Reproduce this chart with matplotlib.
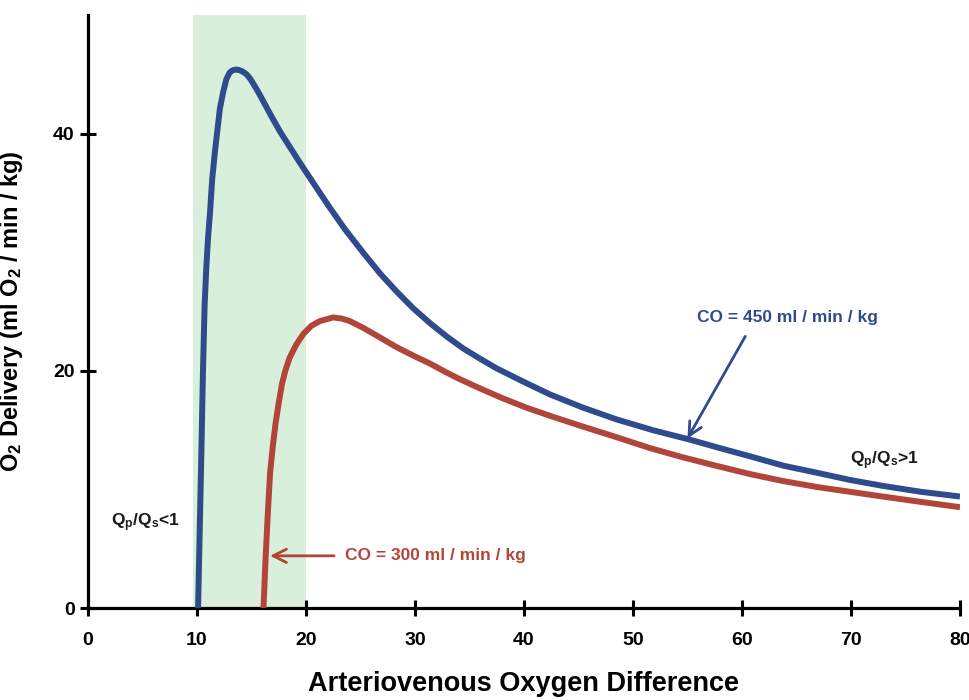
import matplotlib
matplotlib.use("Agg")
import matplotlib.pyplot as plt

plt.rcParams['font.family'] = ['Liberation Sans', 'DejaVu Sans']
plt.rcParams['font.weight'] = 'bold'
plt.rcParams['mathtext.fontset'] = 'custom'
plt.rcParams['mathtext.rm'] = 'Liberation Sans:bold'
plt.rcParams['mathtext.it'] = 'Liberation Sans:bold'
plt.rcParams['mathtext.bf'] = 'Liberation Sans:bold'
plt.rcParams['mathtext.default'] = 'regular'

# ---- data ----
co450_x = [10.1, 10.25, 10.4, 10.55, 10.7, 10.85, 11.0, 11.2, 11.4, 11.65, 11.9, 12.1, 12.4,
           12.7, 13.0, 13.3, 13.6, 13.9, 14.25, 14.6, 14.9, 15.5, 16.1, 16.8, 17.6,
           18.5, 19.4, 20.7, 22.0, 23.6, 25.3, 26.8, 28.3, 29.8, 31.4, 32.9, 34.4,
           36.0, 37.5, 39.9, 42.4, 45.4, 48.5, 51.8, 55.2, 57.9, 60.7, 63.8, 66.9,
           69.9, 72.9, 76.4, 80.0]
co450_y = [0.0, 6.5, 13.0, 20.0, 25.5, 28.6, 31.0, 33.4, 36.2, 38.5, 40.5, 42.1, 43.5,
           44.6, 45.15, 45.35, 45.4, 45.35, 45.2, 44.95, 44.6, 43.7, 42.7, 41.5, 40.2,
           38.9, 37.6, 35.8, 34.0, 31.9, 29.9, 28.2, 26.7, 25.3, 24.0, 22.9, 21.9,
           21.0, 20.2, 19.1, 18.0, 16.9, 15.9, 15.0, 14.2, 13.5, 12.8, 12.0, 11.4,
           10.8, 10.3, 9.8, 9.4]

co300_x = [16.1, 16.3, 16.5, 16.7, 16.95, 17.2, 17.5, 17.8, 18.1, 18.5, 19.1, 19.75,
           20.5, 21.3, 22.5, 23.3, 24.0, 25.3, 26.8, 28.3, 29.8, 31.4, 32.8, 34.1,
           36.0, 38.0, 40.2, 42.4, 45.4, 48.5, 51.5, 54.6, 57.6, 60.7, 63.8, 66.9,
           69.9, 72.9, 76.4, 80.0]
co300_y = [0.0, 4.3, 8.0, 11.3, 13.6, 15.5, 17.3, 18.9, 20.0, 21.1, 22.2, 23.1,
           23.8, 24.2, 24.5, 24.4, 24.2, 23.6, 22.8, 22.0, 21.3, 20.6, 19.9, 19.3,
           18.5, 17.7, 16.9, 16.2, 15.3, 14.4, 13.5, 12.7, 12.0, 11.3, 10.7, 10.2,
           9.8, 9.4, 8.95, 8.5]

band = [9.6, 20.0]
x_ticks = [0, 10, 20, 30, 40, 50, 60, 70, 80]
y_ticks = [0, 20, 40]

blue = '#2f4b8d'
red = '#b1453a'

fig = plt.figure(figsize=(9.7, 7.0), dpi=100)
ax = fig.add_axes([0.0907, 0.1314, 0.8990, 0.8472])
ax.set_xlim(0, 80)
ax.set_ylim(0, 50)

ax.axvspan(band[0], band[1], color='#d8efdb', zorder=0, lw=0)

ax.plot(co450_x, co450_y, color=blue, lw=4.3, solid_capstyle='butt',
        solid_joinstyle='round', zorder=3)
ax.plot(co300_x, co300_y, color=red, lw=4.3, solid_capstyle='butt',
        solid_joinstyle='round', zorder=3)

for s in ['top', 'right']:
    ax.spines[s].set_visible(False)
for s in ['left', 'bottom']:
    ax.spines[s].set_linewidth(2.3)
    ax.spines[s].set_color('black')

ax.set_xticks(x_ticks)
ax.set_yticks(y_ticks)
ax.tick_params(direction='inout', length=11, width=2.2, labelsize=14)
ax.tick_params(axis='x', pad=12)
ax.tick_params(axis='y', pad=4)
for lab in ax.get_xticklabels() + ax.get_yticklabels():
    lab.set_fontweight('bold')

ax.set_xlabel('Arteriovenous Oxygen Difference', fontsize=19.5, fontweight='bold')
ax.xaxis.set_label_coords(0.5, -0.106)
ax.set_ylabel('O$_2$ Delivery (ml O$_2$ / min / kg)', fontsize=17, fontweight='bold')
ax.yaxis.set_label_coords(-0.072, 0.5)

# annotations
ax.text(64.2, 24.5, 'CO = 450 ml / min / kg', color=blue, fontsize=12.5,
        fontweight='bold', ha='center', va='center')
ax.annotate('', xy=(55.0, 14.3), xytext=(60.3, 22.9),
            arrowprops=dict(arrowstyle='->', color=blue, lw=2.0, mutation_scale=24,
                            shrinkA=0, shrinkB=0))
ax.annotate('CO = 300 ml / min / kg', xy=(16.7, 4.4), xytext=(23.6, 4.4),
            color=red, fontsize=12.5, fontweight='bold', ha='left', va='center',
            arrowprops=dict(arrowstyle='->', color=red, lw=2.0, mutation_scale=24,
                            shrinkA=6, shrinkB=0))
ax.text(5.3, 7.2, 'Q$_p$/Q$_s$<1', fontsize=12.5, ha='center', va='center', color='#1a1a1a')
ax.text(73.1, 12.4, 'Q$_p$/Q$_s$>1', fontsize=12.5, ha='center', va='center', color='#1a1a1a')

fig.savefig('out.png', dpi=100, facecolor='white')
